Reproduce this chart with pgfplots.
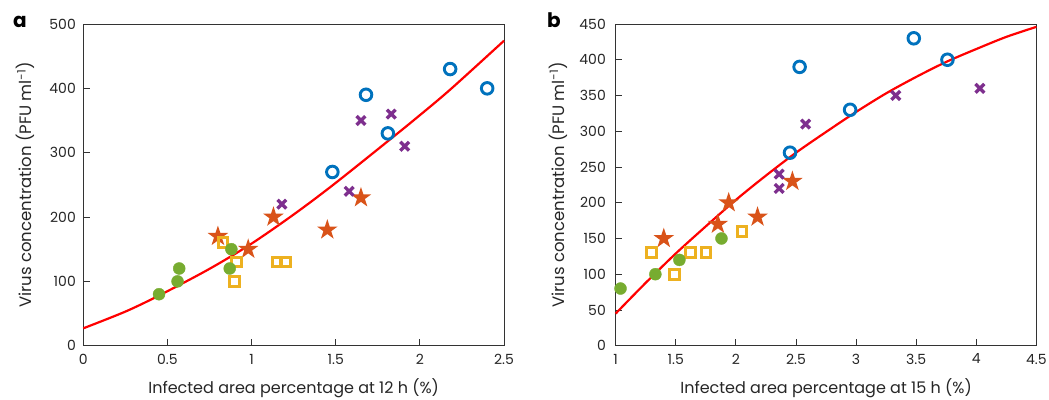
\documentclass[border=0pt]{standalone}
\usepackage{fontspec}
\setmainfont{Poppins}
\usepackage{pgfplots}
\pgfplotsset{compat=1.18}

\definecolor{mblue}{RGB}{0,114,189}
\definecolor{morange}{RGB}{217,83,25}
\definecolor{myellow}{RGB}{237,177,32}
\definecolor{mpurple}{RGB}{126,47,142}
\definecolor{mgreen}{RGB}{119,172,48}

\pgfdeclareplotmark{fstar}{%
  \pgfpathmoveto{\pgfpointpolar{90}{\pgfplotmarksize}}%
  \pgfpathlineto{\pgfpointpolar{126}{0.382\pgfplotmarksize}}%
  \pgfpathlineto{\pgfpointpolar{162}{\pgfplotmarksize}}%
  \pgfpathlineto{\pgfpointpolar{198}{0.382\pgfplotmarksize}}%
  \pgfpathlineto{\pgfpointpolar{234}{\pgfplotmarksize}}%
  \pgfpathlineto{\pgfpointpolar{270}{0.382\pgfplotmarksize}}%
  \pgfpathlineto{\pgfpointpolar{306}{\pgfplotmarksize}}%
  \pgfpathlineto{\pgfpointpolar{342}{0.382\pgfplotmarksize}}%
  \pgfpathlineto{\pgfpointpolar{18}{\pgfplotmarksize}}%
  \pgfpathlineto{\pgfpointpolar{54}{0.382\pgfplotmarksize}}%
  \pgfpathclose
  \pgfusepathqfill}

\pgfplotsset{
  myax/.style={
    scale only axis, width=420.7bp, height=321.7bp, anchor=south west,
    clip=false,
    axis line style={black!80, line width=0.9bp},
    tick align=inside, major tick length=6.5bp,
    tick style={black!80, line width=0.9bp},
    xtick pos=left, ytick pos=left,
    /pgf/number format/assume math mode=true,
    every tick label/.append style={font=\fontsize{14bp}{16bp}\selectfont, text=black!85},
    xticklabel style={anchor=north, inner sep=0pt}, xticklabel shift=8bp,
    yticklabel style={anchor=east, inner sep=0pt},
    every axis x label/.style={at={(axis description cs:0.5,-0.148)}, anchor=base,
      font=\fontsize{16bp}{18bp}\selectfont, text=black!85},
    every axis y label/.style={at={(axis description cs:-0.122,0.5)}, rotate=90, anchor=base,
      font=\fontsize{16.5bp}{18bp}\selectfont, text=black!85},
  },
  pstar/.style={only marks, mark=fstar, mark size=10.8bp, color=morange},
  psq/.style={only marks, mark=square, mark size=4.8bp, line width=3bp, color=myellow},
  pgr/.style={only marks, mark=*, mark size=6bp, color=mgreen},
  pcr/.style={only marks, mark=x, mark size=6.2bp, line width=3.3bp, color=mpurple},
  pci/.style={only marks, mark=o, mark size=5.8bp, line width=2.9bp, color=mblue},
  pfit/.style={red, line width=2.2bp, smooth, no marks},
}

\begin{document}
\begin{tikzpicture}
\useasboundingbox (0,0) rectangle (1049bp,400bp);

\node[anchor=base west, inner sep=0pt, font=\fontsize{20bp}{22bp}\selectfont\bfseries] at (13bp,372bp) {a};
\node[anchor=base west, inner sep=0pt, font=\fontsize{20bp}{22bp}\selectfont\bfseries] at (547bp,372bp) {b};

% Panel a
\begin{axis}[myax, at={(83.3bp,54.3bp)},
  xmin=0, xmax=2.5, ymin=0, ymax=500,
  xtick={0,0.5,1,1.5,2,2.5}, ytick={0,100,200,300,400,500},
  yticklabel shift=7.3bp,
  xlabel={Infected area percentage at 12 h (\%)},
  ylabel={Virus concentration (PFU ml\textsuperscript{−1})}]
\addplot[pstar] coordinates {(1.65,230) (1.45,180) (1.13,200) (0.80,170) (0.98,150)};
\addplot[psq] coordinates {(0.83,160) (0.91,130) (0.90,100) (1.15,130) (1.20,130)};
\addplot[pgr] coordinates {(0.45,80) (0.56,100) (0.57,120) (0.88,150) (0.87,120)};
\addplot[pcr] coordinates {(1.65,350) (1.83,360) (1.91,310) (1.58,240) (1.18,220)};
\addplot[pci] coordinates {(1.48,270) (1.68,390) (1.81,330) (2.18,430) (2.40,400)};
\addplot[pfit] coordinates {(0,27) (0.25,53) (0.45,78) (0.74,118) (0.99,157) (1.24,202) (1.48,249) (1.82,320) (1.98,354) (2.18,398) (2.5,474)};
\end{axis}

% Panel b
\begin{axis}[myax, at={(615.7bp,54.3bp)},
  xmin=1, xmax=4.5, ymin=0, ymax=450,
  xtick={1,1.5,2,2.5,3,3.5,4,4.5}, ytick={0,50,...,450},
  yticklabel shift=9.7bp,
  xlabel={Infected area percentage at 15 h (\%)},
  ylabel={Virus concentration (PFU ml\textsuperscript{−1})}]
\addplot[pstar] coordinates {(2.47,230) (1.94,200) (2.18,180) (1.85,170) (1.40,150)};
\addplot[psq] coordinates {(1.30,130) (1.49,100) (1.62,130) (1.75,130) (2.05,160)};
\addplot[pgr] coordinates {(1.04,80) (1.33,100) (1.53,120) (1.88,150)};
\addplot[pcr] coordinates {(2.58,310) (3.33,350) (4.03,360) (2.36,240) (2.36,220)};
\addplot[pci] coordinates {(2.45,270) (2.53,390) (2.95,330) (3.48,430) (3.76,400)};
\addplot[pfit] coordinates {(1,45) (1.25,88) (1.5,129) (1.75,167) (2,204) (2.25,238) (2.5,270) (2.75,299) (3,327) (3.25,353) (3.5,376) (3.75,397) (4,415) (4.25,432) (4.5,446)};
\end{axis}
\end{tikzpicture}
\end{document}
